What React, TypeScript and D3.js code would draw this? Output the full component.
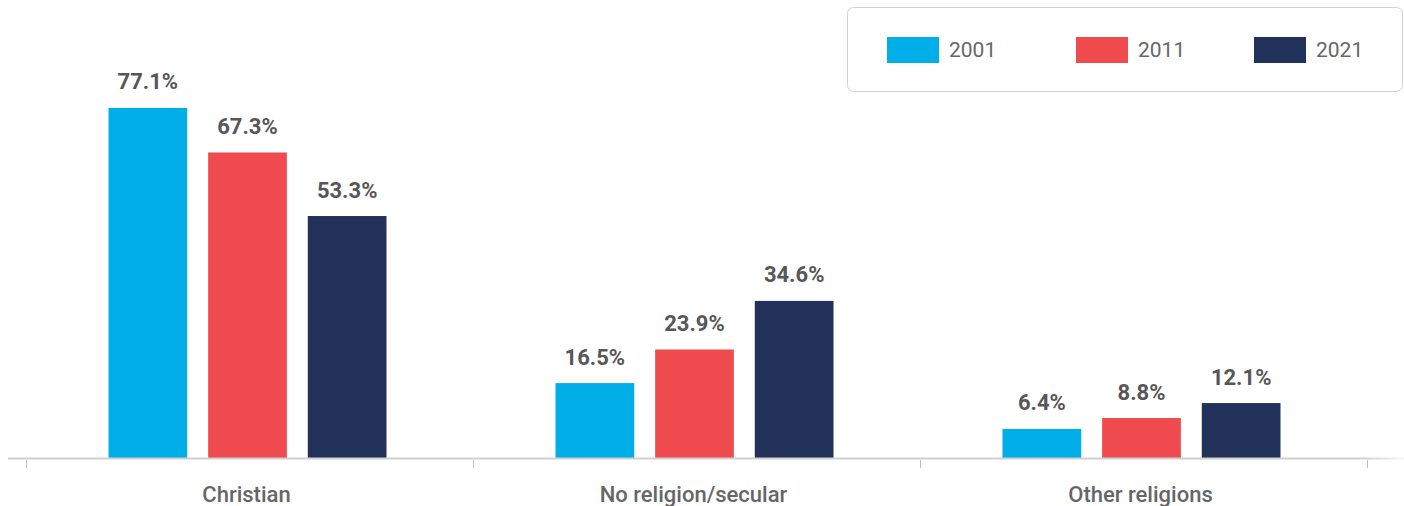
import React from "react";
import * as d3 from "d3";

const categories = ["Christian", "No religion/secular", "Other religions"];
const years = ["2001", "2011", "2021"];
const values2001 = [77.1, 16.5, 6.4];
const values2011 = [67.3, 23.9, 8.8];
const values2021 = [53.3, 34.6, 12.1];
const seriesValues = [values2001, values2011, values2021];
const colors = ["#00AEE8", "#EF4B4E", "#21315A"];

const W = 1404;
const H = 506;
const baseY = 458;
const FONT = "Roboto, 'Noto Sans', sans-serif";

export default function App() {
  const x0 = d3.scaleBand<string>().domain(categories).range([26, 1367]).padding(0);
  const x1 = d3.scaleBand<string>().domain(years).range([-141, 137]).paddingInner(0.21);
  const y = d3.scaleLinear().domain([0, 100]).range([baseY, baseY - 454]);

  const tickXs = [...categories.map((c) => x0(c)!), x0.range()[1]];
  const legendX = [887, 1076, 1254];

  return (
    <svg width={W} height={H} style={{ position: "absolute", left: 0, top: 0 }} fontFamily={FONT}>
      <defs>
        <linearGradient id="axisFade" gradientUnits="userSpaceOnUse" x1="8" x2="1404" y1="0" y2="0">
          <stop offset="0.97" stopColor="#d0d0d0" />
          <stop offset="1" stopColor="#d0d0d0" stopOpacity="0.2" />
        </linearGradient>
      </defs>
      <rect x={0} y={0} width={W} height={H} fill="#fff" />
      {/* legend */}
      <rect x={847.5} y={7.5} width={555} height={84} rx={6} fill="#fff" stroke="#d2d2d2" strokeWidth={1} />
      {years.map((yr, i) => (
        <g key={yr} transform={`translate(${legendX[i]},0)`}>
          <rect x={0} y={37} width={52} height={26} fill={colors[i]} />
          <text x={62} y={57.3} fontSize={21} fill="#666">{yr}</text>
        </g>
      ))}
      {/* bars */}
      {categories.map((c, ci) => {
        const cx = x0(c)! + x0.bandwidth() / 2;
        return (
          <g key={c}>
            {years.map((yr, si) => {
              const v = seriesValues[si][ci];
              const bx = cx + x1(yr)!;
              const top = y(v);
              return (
                <g key={yr}>
                  <rect x={bx} y={top} width={x1.bandwidth()} height={baseY - top} fill={colors[si]} />
                  <text x={bx + x1.bandwidth() / 2} y={top - 18.5} textAnchor="middle" fontSize={22} fontWeight="bold" fill="#575757">
                    {v.toFixed(1)}%
                  </text>
                </g>
              );
            })}
            <text x={cx - 3} y={502.3} textAnchor="middle" fontSize={22} fontWeight={500} fill="#666">{c}</text>
          </g>
        );
      })}
      {/* axis */}
      <line x1={8} x2={1404} y1={baseY + 0.5} y2={baseY + 0.5} stroke="url(#axisFade)" strokeWidth={2} />
      {tickXs.map((tx, i) => (
        <line key={i} x1={tx + 0.5} x2={tx + 0.5} y1={460} y2={468} stroke="#bdbdbd" strokeWidth={1} />
      ))}
    </svg>
  );
}
